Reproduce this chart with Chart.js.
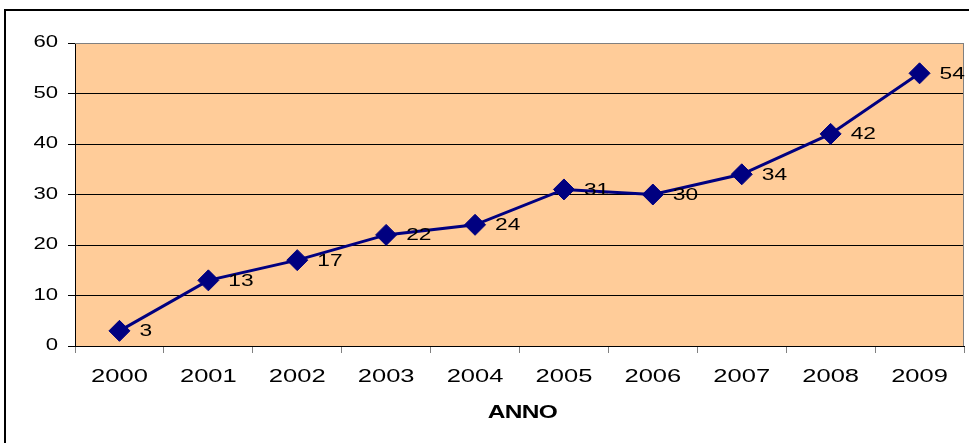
<!DOCTYPE html>
<html>
<head>
<meta charset="utf-8">
<script src="https://cdn.jsdelivr.net/npm/chart.js@4/dist/chart.umd.min.js"></script>
<style>
  html, body { margin: 0; padding: 0; background: #fff; }
  #wrap { position: relative; width: 969px; height: 443px; overflow: hidden; }
  #frame { position: absolute; left: 4px; top: 9px; width: 1200px; height: 600px;
           border-left: 2px solid #000; border-top: 2px solid #000; }
  #c { position: absolute; left: 0; top: 0; }
</style>
</head>
<body>
<div id="wrap">
  <div id="frame"></div>
  <canvas id="c" width="969" height="443"></canvas>
</div>
<script>
// Yearly series
const years = ['2000', '2001', '2002', '2003', '2004', '2005', '2006', '2007', '2008', '2009'];
const values = [3, 13, 17, 22, 24, 31, 30, 34, 42, 54];
const yTickValues = [0, 10, 20, 30, 40, 50, 60];
const xAxisTitle = 'ANNO';

const FONT = '"Liberation Sans", Arial, sans-serif';
const STRETCH = 1.38;   // wide lettering of the labels

function wideText(ctx, text, x, y, align, font, sx, spacing) {
  ctx.save();
  ctx.font = font;
  ctx.fillStyle = '#000';
  ctx.textBaseline = 'middle';
  ctx.textAlign = align;
  if (spacing) ctx.letterSpacing = spacing;
  ctx.translate(x, y);
  ctx.scale(sx, 1);
  ctx.fillText(text, 0, 0);
  ctx.restore();
}

const plotBackground = {
  id: 'plotBackground',
  beforeDraw(chart) {
    const { ctx, chartArea: a } = chart;
    ctx.save();
    ctx.fillStyle = '#FFCC99';
    ctx.fillRect(a.left, a.top, a.right - a.left, a.bottom - a.top);
    ctx.restore();
  },
  beforeDatasetsDraw(chart) {
    const { ctx, chartArea: a } = chart;
    ctx.save();
    ctx.strokeStyle = '#808080';
    ctx.lineWidth = 1;
    ctx.beginPath();
    ctx.moveTo(a.left, a.top + 0.5);
    ctx.lineTo(a.right - 0.5, a.top + 0.5);
    ctx.lineTo(a.right - 0.5, a.bottom);
    ctx.stroke();
    ctx.restore();
  }
};

const textLayer = {
  id: 'textLayer',
  afterDraw(chart) {
    const { ctx, scales, chartArea: a } = chart;
    // y-axis tick labels
    yTickValues.forEach(v => {
      wideText(ctx, String(v), 58, scales.y.getPixelForValue(v), 'right',
               '16px ' + FONT, STRETCH);
    });
    // x-axis category labels
    years.forEach((yr, i) => {
      wideText(ctx, yr, scales.x.getPixelForValue(i), a.bottom + 31, 'center',
               '18.5px ' + FONT, STRETCH);
    });
    // axis title
    wideText(ctx, xAxisTitle, (a.left + a.right) / 2 + 3, a.bottom + 67, 'center',
             'bold 18px ' + FONT, 1.36, '-0.5px');
    // value labels beside each point
    const meta = chart.getDatasetMeta(0);
    meta.data.forEach((pt, i) => {
      wideText(ctx, String(values[i]), pt.x + 20, pt.y + 1, 'left',
               '16.5px ' + FONT, STRETCH);
    });
  }
};

new Chart(document.getElementById('c'), {
  type: 'line',
  data: {
    labels: years,
    datasets: [{
      data: values,
      borderColor: '#000080',
      backgroundColor: '#000080',
      borderWidth: 3,
      pointStyle: 'rectRot',
      pointRadius: 10.5,
      pointBackgroundColor: '#000080',
      pointBorderColor: '#000080',
      pointBorderWidth: 1,
      tension: 0,
      clip: false
    }]
  },
  options: {
    responsive: false,
    animation: false,
    events: [],
    layout: { autoPadding: false, padding: { top: 43, right: 5, left: 0, bottom: 0 } },
    plugins: { legend: { display: false }, tooltip: { enabled: false }, title: { display: false } },
    scales: {
      x: {
        type: 'category',
        offset: true,
        grid: { offset: true, drawOnChartArea: false, tickLength: 7, tickColor: '#808080', lineWidth: 1 },
        border: { color: '#000', width: 1 },
        ticks: { display: false },
        afterFit(s) { s.height = 97; }
      },
      y: {
        min: 0,
        max: 60,
        ticks: { display: false, stepSize: 10 },
        grid: {
          color: c => (c.tick && c.tick.value === 60 ? '#808080' : '#000'),
          lineWidth: 1,
          tickLength: 7,
          tickColor: '#000'
        },
        border: { color: '#000', width: 1 },
        afterFit(s) { s.width = 75; }
      }
    }
  },
  plugins: [plotBackground, textLayer]
});
</script>
</body>
</html>
